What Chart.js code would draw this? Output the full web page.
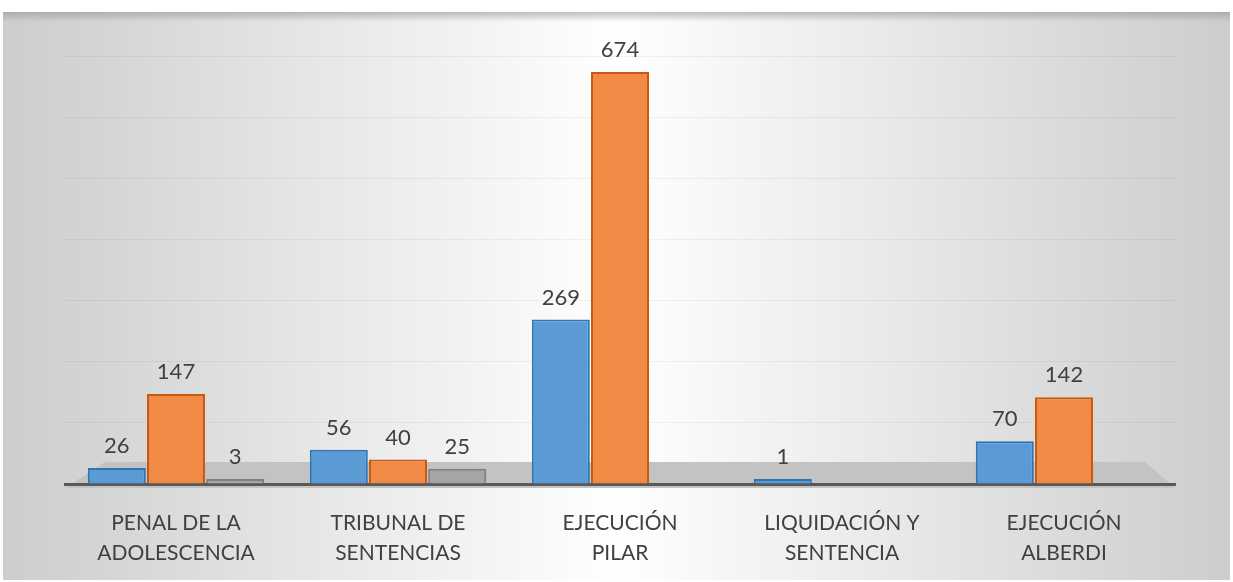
<!DOCTYPE html>
<html>
<head>
<meta charset="utf-8">
<script src="https://cdn.jsdelivr.net/npm/chart.js@4/dist/chart.umd.min.js"></script>
<style>
  html, body { margin: 0; padding: 0; background: #fff; }
  #wrap { width: 1233px; height: 582px; position: relative; }
</style>
</head>
<body>
<div id="wrap"><canvas id="grafico_barras"></canvas></div>
<script>
var categorias = [
  ["PENAL DE LA", "ADOLESCENCIA"],
  ["TRIBUNAL DE", "SENTENCIAS"],
  ["EJECUCIÓN", "PILAR"],
  ["LIQUIDACIÓN Y", "SENTENCIA"],
  ["EJECUCIÓN", "ALBERDI"]
];
var serieAzul = [26, 56, 269, 1, 70];
var serieNaranja = [147, 40, 674, null, 142];
var serieGris = [3, 25, null, null, null];

// fondo del panel con degradado y el "piso" gris
var fondo = {
  id: 'fondo',
  beforeDraw: function(chart) {
    var ctx = chart.ctx, a = chart.chartArea;
    ctx.save();
    var g = ctx.createLinearGradient(3, 0, 1230, 0);
    g.addColorStop(0, '#cdcdcd');
    g.addColorStop(0.5, '#ffffff');
    g.addColorStop(1, '#cdcdcd');
    ctx.fillStyle = g;
    ctx.fillRect(3, 12, 1227, 568);
    var g2 = ctx.createLinearGradient(0, 12, 0, 22);
    g2.addColorStop(0, 'rgba(150,150,150,0.6)');
    g2.addColorStop(1, 'rgba(150,150,150,0)');
    ctx.fillStyle = g2;
    ctx.fillRect(3, 12, 1227, 10);
    // piso
    ctx.fillStyle = '#c3c3c3';
    ctx.beginPath();
    ctx.moveTo(a.left, a.bottom + 4);
    ctx.lineTo(a.left + 40, a.bottom - 22);
    ctx.lineTo(a.right - 30, a.bottom - 22);
    ctx.lineTo(a.right, a.bottom + 4);
    ctx.closePath();
    ctx.fill();
    ctx.restore();
  }
};

var etiquetas = {
  id: 'etiquetas',
  afterDatasetsDraw: function(chart) {
    var ctx = chart.ctx;
    ctx.save();
    ctx.font = '22px Lato, "Open Sans", sans-serif';
    ctx.fillStyle = '#404040';
    ctx.textAlign = 'center';
    ctx.textBaseline = 'bottom';
    chart.data.datasets.forEach(function(ds, i) {
      chart.getDatasetMeta(i).data.forEach(function(bar, j) {
        if (ds.data[j] == null) return;
        ctx.fillText(ds.data[j], bar.x, bar.y - 11);
      });
    });
    ctx.restore();
  }
};

new Chart(document.getElementById("grafico_barras"), {
  type: 'bar',
  data: {
    labels: categorias,
    datasets: [{
      label: "Serie 1",
      data: serieAzul,
      backgroundColor: "#5b9bd5",
      borderColor: "#2e75b6",
      borderWidth: 2
    }, {
      label: "Serie 2",
      data: serieNaranja,
      backgroundColor: "#f08a45",
      borderColor: "#c55a11",
      borderWidth: 2
    }, {
      label: "Serie 3",
      data: serieGris,
      backgroundColor: "#a5a5a5",
      borderColor: "#7f7f7f",
      borderWidth: 2
    }]
  },
  options: {
    responsive: true,
    maintainAspectRatio: false,
    animation: false,
    layout: { padding: { top: 56, left: 65, right: 58, bottom: 0 } },
    datasets: { bar: { categoryPercentage: 0.8, barPercentage: 0.98, minBarLength: 5 } },
    plugins: {
      legend: { display: false },
      title: { display: false },
      tooltip: { enabled: false }
    },
    scales: {
      x: {
        grid: { display: false },
        border: { display: true, color: '#595959', width: 3 },
        ticks: {
          color: '#404040',
          font: { family: 'Lato, "Open Sans", sans-serif', size: 21, lineHeight: 1.45 },
          padding: 16,
          maxRotation: 0
        },
        afterFit: function(s) { s.height = 98; }
      },
      y: {
        min: 0,
        max: 700,
        ticks: { display: false, stepSize: 100 },
        border: { display: false },
        grid: { color: 'rgba(0,0,0,0.05)', drawTicks: false },
        afterFit: function(s) { s.width = 0; }
      }
    }
  },
  plugins: [fondo, etiquetas]
});
</script>
</body>
</html>
